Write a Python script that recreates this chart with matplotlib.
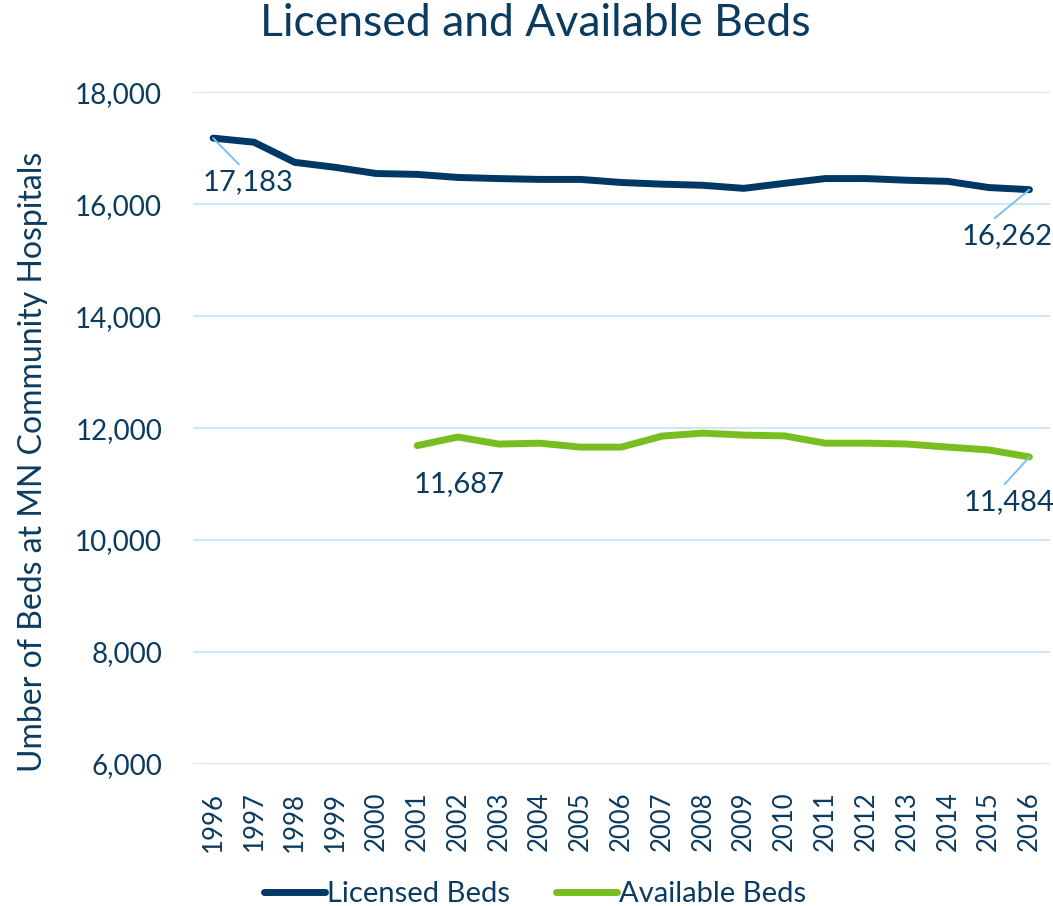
import matplotlib.pyplot as plt
from matplotlib.ticker import FuncFormatter

years = list(range(1996, 2017))
licensed = [17183, 17110, 16750, 16660, 16550, 16535, 16480, 16460, 16445, 16445,
            16390, 16360, 16340, 16285, 16375, 16460, 16460, 16430, 16410, 16300, 16262]
avail_years = list(range(2001, 2017))
available = [11687, 11840, 11714, 11730, 11660, 11660, 11857, 11910, 11875, 11860,
             11730, 11730, 11715, 11660, 11610, 11484]

navy = '#0b3b60'
dark = '#003865'
green = '#78be20'
grid = '#c6e2f7'
leader = '#7dbff0'

plt.rcParams['font.family'] = ['Lato', 'DejaVu Sans']

fig = plt.figure(figsize=(10.53, 9.06), dpi=100)
ax = fig.add_axes([0.183, 0.157, 0.814, 0.741])

xl = [y - 1996 for y in years]
xa = [y - 1996 for y in avail_years]
ax.plot(xl, licensed, color=dark, lw=5, solid_capstyle='round', label='Licensed Beds')
ax.plot(xa, available, color=green, lw=5, solid_capstyle='round', label='Available Beds')

ax.set_xlim(-0.5, len(years) - 0.5)
ax.set_ylim(6000, 18000)
ax.set_yticks(range(6000, 18001, 2000))
ax.yaxis.set_major_formatter(FuncFormatter(lambda v, p: f'{int(v):,}'))
ax.set_xticks(xl)
ax.set_xticklabels([str(y) for y in years], rotation=90)
ax.grid(axis='y', color=grid, lw=1.2)
ax.set_axisbelow(True)
for s in ax.spines.values():
    s.set_visible(False)
ax.tick_params(length=0, colors=navy)
ax.tick_params(axis='x', labelsize=18.5, pad=20)
ax.tick_params(axis='y', labelsize=20, pad=22)

ax.set_ylabel('Umber of Beds at MN Community Hospitals', fontsize=23, color=navy)
ax.yaxis.set_label_coords(-0.169, 0.45)
fig.suptitle('Licensed and Available Beds', fontsize=32, color=navy, x=0.508, y=0.997)

def label(x, y, txt, dx, dy, relpos=(0.5, 1.0), line=True):
    ap = dict(arrowstyle='-', color=leader, lw=1.4, shrinkA=2, shrinkB=0, relpos=relpos) if line else None
    ax.annotate(txt, (x, y), xytext=(dx, dy), textcoords='offset pixels',
                ha='center', va='center', fontsize=21, color=navy, arrowprops=ap)

label(xl[0], licensed[0], f'{licensed[0]:,}', 35, -44, relpos=(0.45, 1.0))
label(xl[-1], licensed[-1], f'{licensed[-1]:,}', -22, -46, relpos=(0.3, 1.0))
label(xa[0], available[0], f'{available[0]:,}', 42, -38, line=False)
label(xa[-1], available[-1], f'{available[-1]:,}', -20, -45, relpos=(0.4, 1.0))

fig.legend(loc='lower center', bbox_to_anchor=(0.508, -0.03), ncol=2, frameon=False,
           fontsize=21, labelcolor=navy, handlelength=2.1, handletextpad=0.05,
           columnspacing=1.6)

fig.savefig('out.png', dpi=100)
